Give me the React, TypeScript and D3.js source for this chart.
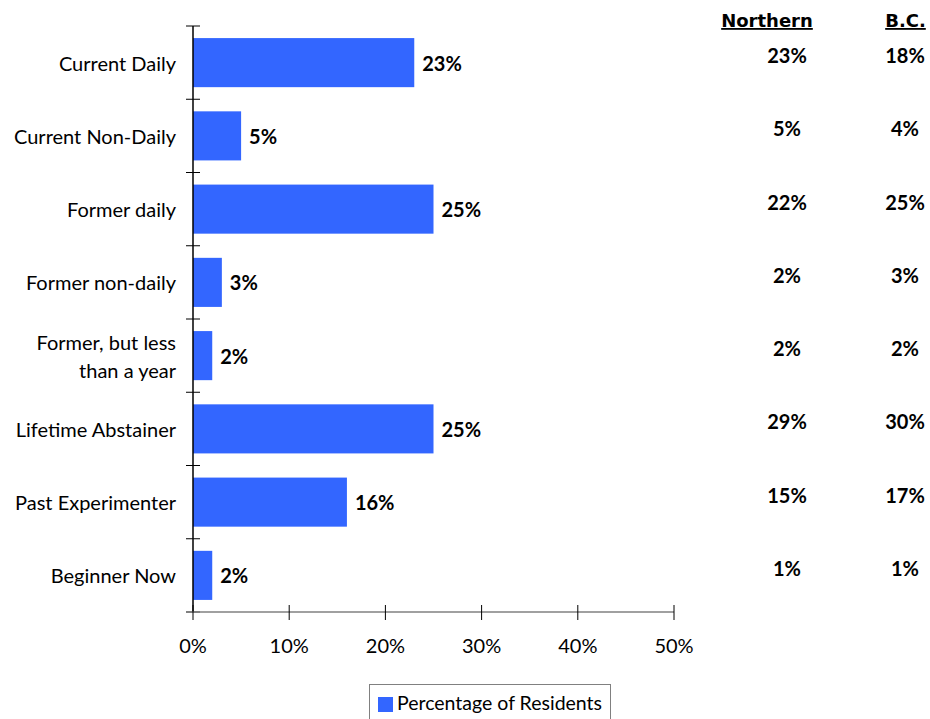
import React from "react";
import * as d3 from "d3";

const categories = [
  "Current Daily",
  "Current Non-Daily",
  "Former daily",
  "Former non-daily",
  "Former, but less|than a year",
  "Lifetime Abstainer",
  "Past Experimenter",
  "Beginner Now",
];
const residents = [23, 5, 25, 3, 2, 25, 16, 2];
const northern = [23, 5, 22, 2, 2, 29, 15, 1];
const bc = [18, 4, 25, 3, 2, 30, 17, 1];
const xTicks = [0, 10, 20, 30, 40, 50];
const seriesName = "Percentage of Residents";

const FONT = "Lato, 'Open Sans', sans-serif";

export default function App() {
  const W = 930, H = 719;
  const x = d3.scaleLinear().domain([0, 50]).range([193, 674]);
  const y = d3.scaleBand<number>().domain(d3.range(categories.length)).range([26, 612]).paddingInner(0.33).paddingOuter(0.165);
  const bandStep = (612 - 26) / categories.length;
  const color = "#3366FF";
  return (
    <svg width={W} height={H} style={{ position: "absolute", left: 0, top: 0, fontFamily: FONT }}>
      {residents.map((v, i) => (
        <g key={i}>
          <rect x={x(0)} y={y(i)!} width={x(v) - x(0)} height={y.bandwidth()} fill={color} />
          <text x={x(v) + 8} y={y(i)! + y.bandwidth() / 2 + 8} fontSize={20} fontWeight="bold" fill="#000">{v}%</text>
        </g>
      ))}
      {categories.map((c, i) => {
        const lines = c.split("|");
        const cy = 26 + bandStep * (i + 0.5);
        const base = cy + 8 - (lines.length - 1) * 14;
        return (
          <text key={i} x={176} y={base} textAnchor="end" fontSize={20} fill="#000">
            {lines.map((l, j) => (
              <tspan key={j} x={176} y={base + j * 28}>{l}</tspan>
            ))}
          </text>
        );
      })}
      {/* y axis */}
      <line x1={193} x2={193} y1={26} y2={612} stroke="#000" strokeWidth={1.5} />
      {d3.range(categories.length + 1).map((i) => (
        <line key={i} x1={186} x2={200} y1={26 + bandStep * i} y2={26 + bandStep * i} stroke="#000" strokeWidth={1} />
      ))}
      {/* x axis */}
      <line x1={186} x2={x(50)} y1={612} y2={612} stroke="#808080" strokeWidth={1.5} />
      {xTicks.map((t) => (
        <g key={t}>
          <line x1={x(t)} x2={x(t)} y1={605} y2={620} stroke="#000" strokeWidth={1} />
          <text x={x(t)} y={653} textAnchor="middle" fontSize={20} fill="#000">{t}%</text>
        </g>
      ))}
      {/* right table */}
      <text x={767} y={27} textAnchor="middle" fontSize={18} fontWeight="bold" fontFamily="'DejaVu Sans', sans-serif" textDecoration="underline">Northern</text>
      <text x={905.5} y={27} textAnchor="middle" fontSize={18} fontWeight="bold" fontFamily="'DejaVu Sans', sans-serif" textDecoration="underline">B.C.</text>
      {northern.map((v, i) => (
        <text key={"n" + i} x={787} y={63 + bandStep * i} textAnchor="middle" fontSize={20} fontWeight="bold">{v}%</text>
      ))}
      {bc.map((v, i) => (
        <text key={"b" + i} x={905} y={63 + bandStep * i} textAnchor="middle" fontSize={20} fontWeight="bold">{v}%</text>
      ))}
      {/* legend */}
      <rect x={369.5} y={684.5} width={241} height={40} fill="#fff" stroke="#808080" strokeWidth={1} />
      <rect x={378} y={697} width={15} height={15} fill={color} />
      <text x={397} y={710} fontSize={19.5} fill="#000">{seriesName}</text>
    </svg>
  );
}
